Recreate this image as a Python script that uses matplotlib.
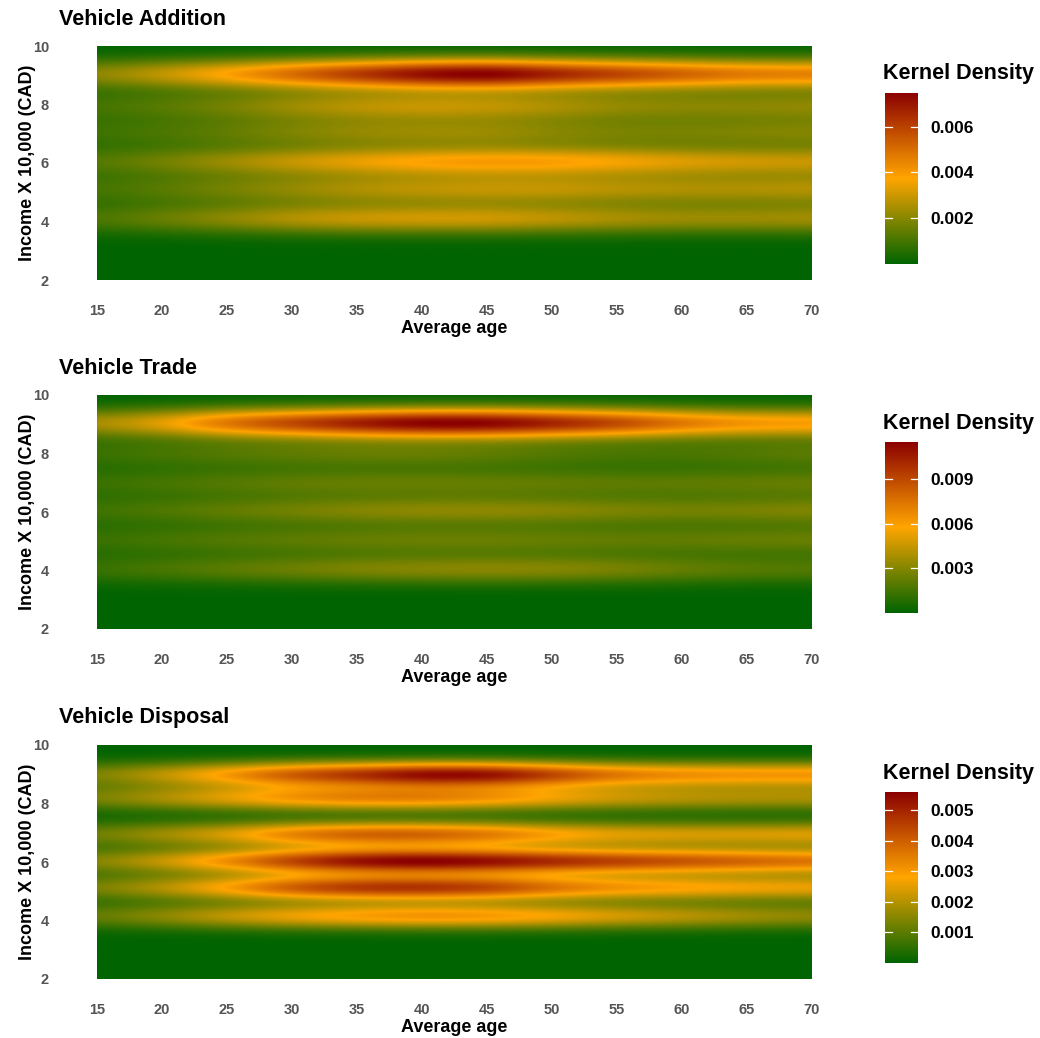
import numpy as np
import matplotlib
matplotlib.use("Agg")
import matplotlib.pyplot as plt
from matplotlib.colors import LinearSegmentedColormap

plt.rcParams["font.family"] = ["Liberation Sans", "DejaVu Sans"]

# ages at which the density was read along each income band
AGES = [15, 20, 25, 30, 35, 40, 45, 50, 55, 60, 65, 70]

# Vehicle Addition
add_income = [9.05, 7.95, 7.05, 6.05, 5.1, 4.1]
add_density = [
    [0.0019, 0.0028, 0.0038, 0.0050, 0.0061, 0.0072, 0.0077, 0.0066, 0.0059, 0.0052, 0.0046, 0.0045],
    [0.0009, 0.0012, 0.0016, 0.0022, 0.0026, 0.0028, 0.0027, 0.0024, 0.0020, 0.0019, 0.0019, 0.0020],
    [0.0008, 0.0010, 0.0013, 0.0017, 0.0020, 0.0021, 0.0021, 0.0018, 0.0016, 0.0016, 0.0017, 0.0018],
    [0.0011, 0.0016, 0.0022, 0.0028, 0.0033, 0.0037, 0.0039, 0.0038, 0.0035, 0.0031, 0.0029, 0.0028],
    [0.0009, 0.0012, 0.0016, 0.0020, 0.0024, 0.0026, 0.0027, 0.0027, 0.0025, 0.0024, 0.0024, 0.0025],
    [0.0010, 0.0015, 0.0020, 0.0026, 0.0029, 0.0030, 0.0030, 0.0027, 0.0024, 0.0022, 0.0022, 0.0023],
]
add_ticks = [0.002, 0.004, 0.006]
add_bw = 0.37

# Vehicle Trade
trade_income = [9.05, 8.0, 7.0, 6.05, 5.05, 4.05]
trade_density = [
    [0.0035, 0.0050, 0.0075, 0.0090, 0.0105, 0.0116, 0.0116, 0.0103, 0.0090, 0.0072, 0.0062, 0.0060],
    [0.0012, 0.0015, 0.0018, 0.0020, 0.0022, 0.0022, 0.0020, 0.0017, 0.0015, 0.0015, 0.0017, 0.0020],
    [0.0012, 0.0015, 0.0018, 0.0021, 0.0022, 0.0022, 0.0022, 0.0021, 0.0020, 0.0020, 0.0021, 0.0022],
    [0.0013, 0.0017, 0.0021, 0.0025, 0.0029, 0.0031, 0.0031, 0.0030, 0.0027, 0.0025, 0.0026, 0.0028],
    [0.0012, 0.0015, 0.0018, 0.0020, 0.0022, 0.0023, 0.0023, 0.0022, 0.0021, 0.0021, 0.0022, 0.0023],
    [0.0012, 0.0016, 0.0020, 0.0024, 0.0028, 0.0030, 0.0031, 0.0030, 0.0027, 0.0022, 0.0019, 0.0018],
]
trade_ticks = [0.003, 0.006, 0.009]
trade_bw = 0.36

# Vehicle Disposal
disp_income = [9.0, 8.2, 6.95, 6.03, 5.12, 4.15]
disp_density = [
    [0.0012, 0.0020, 0.0029, 0.0040, 0.0046, 0.0054, 0.0054, 0.0043, 0.0034, 0.0031, 0.0030, 0.0030],
    [0.0012, 0.0018, 0.0024, 0.0030, 0.0033, 0.0033, 0.0030, 0.0025, 0.0021, 0.0019, 0.0018, 0.0018],
    [0.0011, 0.0017, 0.0023, 0.0034, 0.0039, 0.0039, 0.0035, 0.0028, 0.0024, 0.0023, 0.0023, 0.0024],
    [0.0013, 0.0021, 0.0031, 0.0044, 0.0053, 0.0056, 0.0053, 0.0048, 0.0044, 0.0041, 0.0038, 0.0035],
    [0.0012, 0.0019, 0.0028, 0.0040, 0.0046, 0.0047, 0.0044, 0.0035, 0.0030, 0.0028, 0.0026, 0.0025],
    [0.0010, 0.0015, 0.0021, 0.0026, 0.0029, 0.0031, 0.0030, 0.0027, 0.0023, 0.0020, 0.0017, 0.0015],
]
disp_ticks = [0.001, 0.002, 0.003, 0.004, 0.005]
disp_bw = 0.31

TITLES = ["Vehicle Addition", "Vehicle Trade", "Vehicle Disposal"]
X_TICKS = [15, 20, 25, 30, 35, 40, 45, 50, 55, 60, 65, 70]
Y_TICKS = [2, 4, 6, 8, 10]

AGE_SD = 3.0    # smoothing along age

cmap = LinearSegmentedColormap.from_list("kd", ["#006400", "#FFA500", "#8B0000"])

W, H = 1040, 1038


def fx(px):
    return px / W


def fy(py):
    return 1 - py / H


def density_grid(levels, table, bw):
    ages = np.linspace(15, 70, 440)
    inc = np.linspace(2, 10, 320)
    a = np.array(AGES, dtype=float)
    k = np.exp(-0.5 * ((ages[:, None] - a[None, :]) / AGE_SD) ** 2)
    k /= k.sum(axis=1, keepdims=True)
    z = np.zeros((inc.size, ages.size))
    for lev, row in zip(levels, table):
        prof = k @ np.array(row)
        z += np.exp(-0.5 * ((inc[:, None] - lev) / bw) ** 2) * prof[None, :]
    return z


fig = plt.figure(figsize=(W / 100, H / 100), dpi=100)

panels = [(add_income, add_density, add_ticks, add_bw, 46),
          (trade_income, trade_density, trade_ticks, trade_bw, 395),
          (disp_income, disp_density, disp_ticks, disp_bw, 745)]

for (levels, table, cticks, bw, top), title in zip(panels, TITLES):
    bottom = top + 234
    ax = fig.add_axes([fx(97), fy(bottom), fx(812) - fx(97), (bottom - top) / H])
    z = density_grid(levels, table, bw)
    im = ax.imshow(z, origin="lower", extent=[15, 70, 2, 10], aspect="auto",
                   cmap=cmap, interpolation="bilinear",
                   vmin=z.min(), vmax=z.max())
    ax.set_xlim(15, 70)
    ax.set_ylim(2, 10)
    for s in ax.spines.values():
        s.set_visible(False)
    ax.set_xticks(X_TICKS)
    ax.set_yticks(Y_TICKS)
    ax.tick_params(axis="x", length=0, pad=17, labelsize=10.5, labelcolor="#555555")
    ax.tick_params(axis="y", length=0, pad=34.5, labelsize=10.5, labelcolor="#555555")
    for lab in ax.get_xticklabels() + ax.get_yticklabels():
        lab.set_fontweight("bold")
    ax.set_xlabel("Average age", fontsize=13, fontweight="bold", labelpad=2)
    ax.set_ylabel("Income X 10,000 (CAD)", fontsize=13, fontweight="bold", labelpad=-2.5)
    fig.text(fx(59), fy(top - 27), title, fontsize=15.5, fontweight="bold",
             ha="left", va="center")

    # colour bar
    ctop = top + 46.5
    cax = fig.add_axes([fx(885), fy(ctop + 171.5), fx(918) - fx(885), 171.5 / H])
    cb = fig.colorbar(im, cax=cax, ticks=cticks)
    cb.outline.set_visible(False)
    cax.tick_params(length=0, pad=9, labelsize=12.5)
    cax.set_yticklabels(["%.3f" % t for t in cticks], fontweight="bold")
    for t in cticks:
        cax.plot([0, 0.2], [t, t], color="white", lw=0.9)
        cax.plot([0.8, 1], [t, t], color="white", lw=0.9)
    fig.text(fx(883), fy(ctop - 18.5), "Kernel Density", fontsize=15.5,
             fontweight="bold", ha="left", va="center")

fig.savefig("out.png", dpi=100)
